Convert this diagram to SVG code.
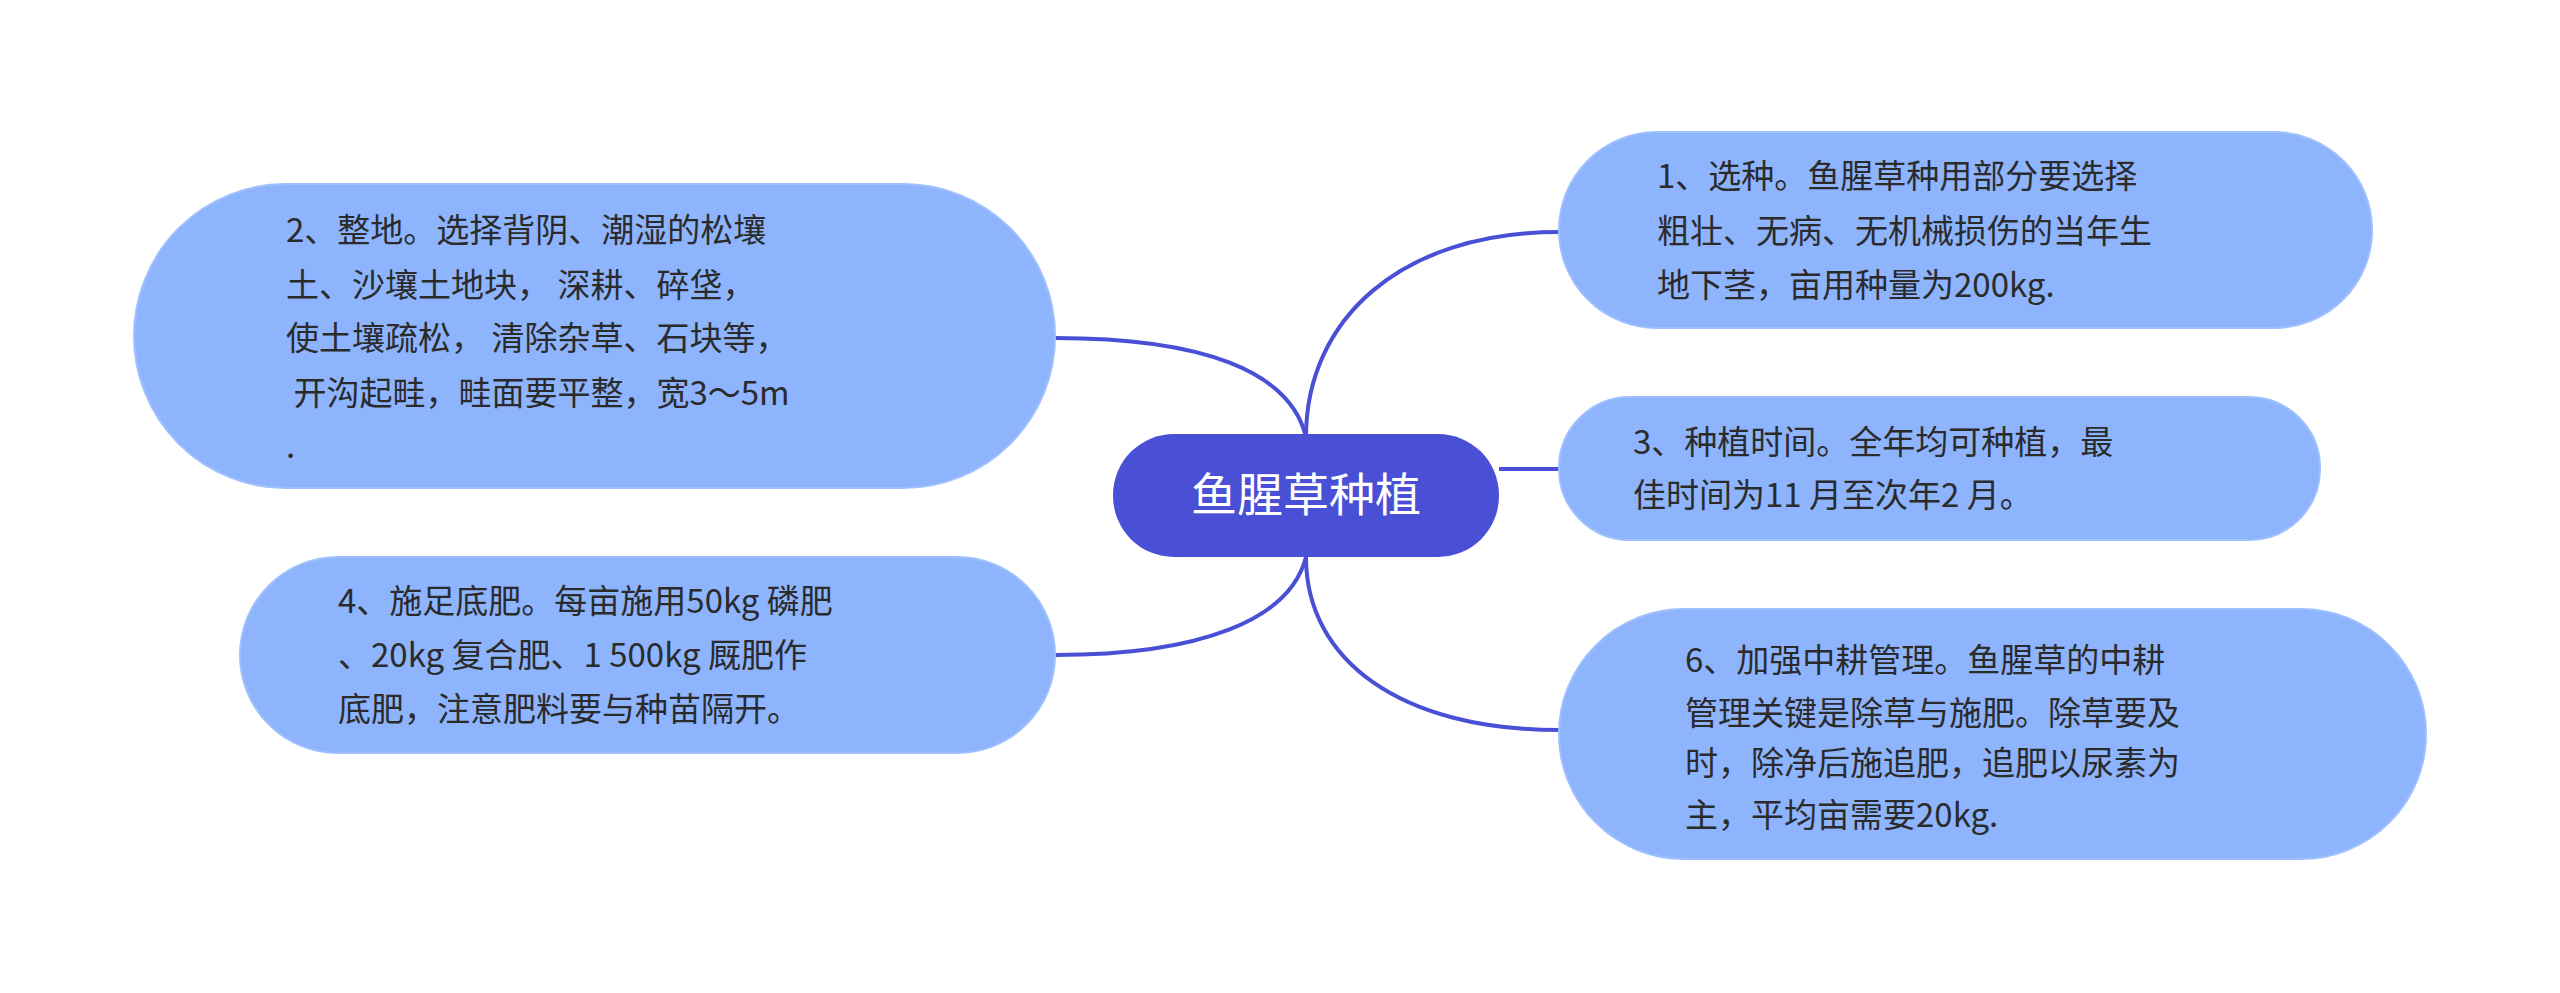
<svg xmlns="http://www.w3.org/2000/svg" width="2560" height="993" viewBox="0 0 2560 993">
<style>
.n{fill:#8db4fd;stroke:#9ec0ff;stroke-width:2}
.t{font-family:"Noto Sans CJK SC","Noto Sans",sans-serif;font-size:33px;fill:#2b2b2b}
.c{fill:none;stroke:#4a50d5;stroke-width:4}
</style>
<rect width="2560" height="993" fill="#fff"/>
<g id="connectors">
<path class="c" d="M1306 437 C1306 320 1400 232 1559 232"/>
<path class="c" d="M1499 469 L1559 469"/>
<path class="c" d="M1306 557 C1306 660 1400 730 1559 730"/>
<path class="c" d="M1306 437 C1290 370 1200 338 1055 338"/>
<path class="c" d="M1306 557 C1290 620 1200 655 1055 655"/>
</g>
<g id="center">
<rect x="1113" y="434" width="386" height="123" rx="61" fill="#4a50d5"/>
<text x="1306" y="511" text-anchor="middle" font-family="Noto Sans CJK SC,sans-serif" font-size="46" fill="#fff">鱼腥草种植</text>
</g>
<g id="node1">
<rect class="n" x="1559" y="132" width="813" height="196" rx="98"/>
<text class="t"><tspan x="1657" y="188">1、选种。鱼腥草种用部分要选择</tspan><tspan x="1657" y="243">粗壮、无病、无机械损伤的当年生</tspan><tspan x="1657" y="297">地下茎，亩用种量为200kg.</tspan></text>
</g>
<g id="node3">
<rect class="n" x="1559" y="397" width="761" height="143" rx="71"/>
<text class="t"><tspan x="1633" y="454">3、种植时间。全年均可种植，最</tspan><tspan x="1633" y="507">佳时间为11 月至次年2 月。</tspan></text>
</g>
<g id="node6">
<rect class="n" x="1559" y="609" width="867" height="250" rx="125"/>
<text class="t"><tspan x="1685" y="672">6、加强中耕管理。鱼腥草的中耕</tspan><tspan x="1685" y="725">管理关键是除草与施肥。除草要及</tspan><tspan x="1685" y="775">时，除净后施追肥，追肥以尿素为</tspan><tspan x="1685" y="827">主，平均亩需要20kg.</tspan></text>
</g>
<g id="node2">
<rect class="n" x="134" y="184" width="921" height="304" rx="152"/>
<text class="t"><tspan x="286" y="242">2、整地。选择背阴、潮湿的松壤</tspan><tspan x="286" y="297">土、沙壤土地块， 深耕、碎垡，</tspan><tspan x="286" y="350">使土壤疏松， 清除杂草、石块等，</tspan><tspan x="286" y="405"> 开沟起畦，畦面要平整，宽3～5m</tspan><tspan x="286" y="458">.</tspan></text>
</g>
<g id="node4">
<rect class="n" x="240" y="557" width="815" height="196" rx="98"/>
<text class="t"><tspan x="338" y="613">4、施足底肥。每亩施用50kg 磷肥</tspan><tspan x="338" y="667">、20kg 复合肥、1 500kg 厩肥作</tspan><tspan x="338" y="721">底肥，注意肥料要与种苗隔开。</tspan></text>
</g>
</svg>
